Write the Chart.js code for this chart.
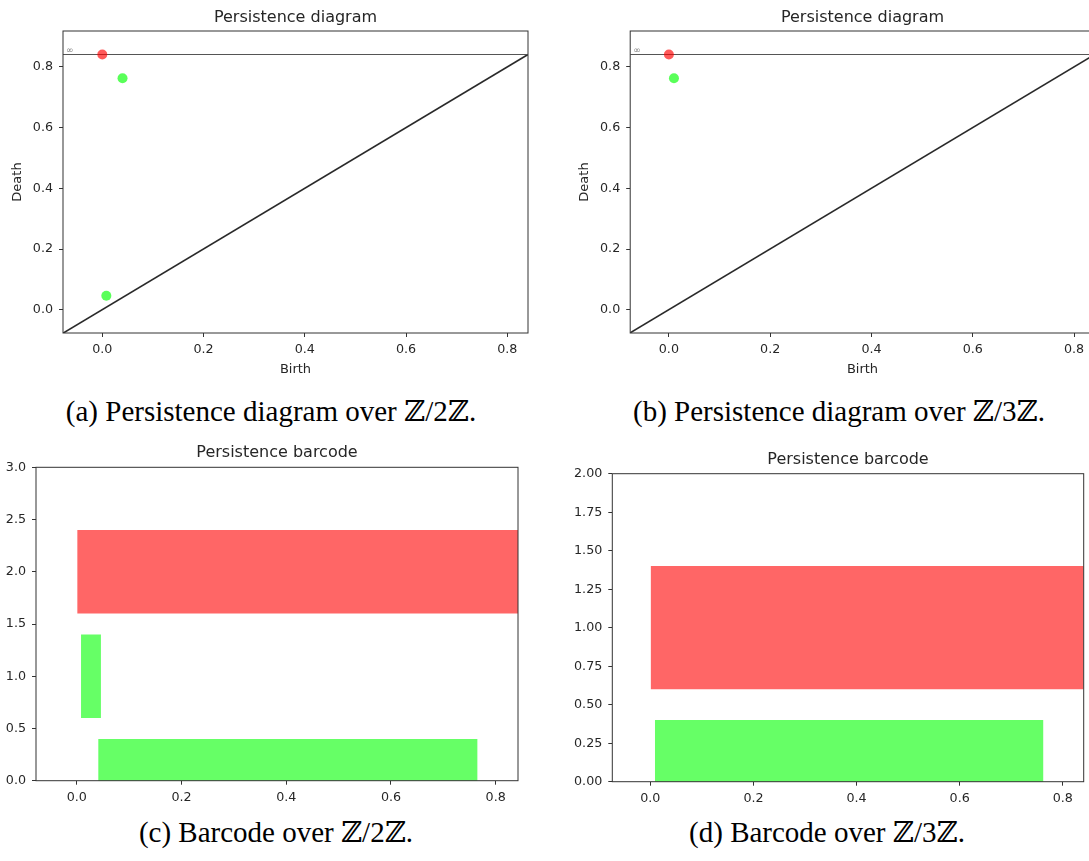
<!DOCTYPE html>
<html><head><meta charset="utf-8">
<script src="https://cdn.jsdelivr.net/npm/chart.js@4.4.1/dist/chart.umd.min.js"></script>
<style>
html,body{margin:0;padding:0;background:#fff;overflow:hidden;width:1089px;height:861px;position:relative}
canvas{position:absolute}
.cap{position:absolute;width:600px;text-align:center;font-family:'Liberation Serif','DejaVu Serif',serif;font-size:29px;line-height:32px;color:#000;white-space:nowrap}
</style></head><body>
<canvas id="ca"></canvas>
<canvas id="cb"></canvas>
<canvas id="cc"></canvas>
<canvas id="cd"></canvas>
<div class="cap" id="capA">(a) Persistence diagram over ℤ/2ℤ.</div>
<div class="cap" id="capB">(b) Persistence diagram over ℤ/3ℤ.</div>
<div class="cap" id="capC">(c) Barcode over ℤ/2ℤ.</div>
<div class="cap" id="capD">(d) Barcode over ℤ/3ℤ.</div>
<script>
// ---------- DATA ----------
// (a) persistence diagram over Z/2Z  (dim 0 = red, dim 1 = green)
const diagA_birth = [0.000, 0.040, 0.008];
const diagA_death = [0.841, 0.763, 0.046];   // first point is the essential class, on the infinity line
const diagA_dim   = [0, 1, 1];
const diagA_inf   = 0.841;
const diagA_xRange = [-0.0776, 0.841];
const diagA_yRange = [-0.0768, 0.9185];

// (b) persistence diagram over Z/3Z
const diagB_birth = [0.000, 0.010];
const diagB_death = [0.841, 0.763];
const diagB_dim   = [0, 1];
const diagB_inf   = 0.841;
const diagB_xRange = [-0.0764, 0.841];
const diagB_yRange = [-0.0768, 0.9185];

const diagTickVals   = [0.0, 0.2, 0.4, 0.6, 0.8];
const diagTickLabels = ['0.0', '0.2', '0.4', '0.6', '0.8'];

// (c) barcode over Z/2Z
const barC_row   = [2, 1, 0];
const barC_start = [0.000, 0.008, 0.041];
const barC_end   = [0.8426, 0.046, 0.765];
const barC_dim   = [0, 1, 1];
const barC_xRange = [-0.078, 0.8426];
const barC_yRange = [0, 3];
const barC_yTickVals   = [0, 0.5, 1.0, 1.5, 2.0, 2.5, 3.0];
const barC_yTickLabels = ['0.0', '0.5', '1.0', '1.5', '2.0', '2.5', '3.0'];

// (d) barcode over Z/3Z
const barD_row   = [1, 0];
const barD_start = [0.000, 0.009];
const barD_end   = [0.8405, 0.762];
const barD_dim   = [0, 1];
const barD_xRange = [-0.0738, 0.8405];
const barD_yRange = [0, 2];
const barD_yTickVals   = [0, 0.25, 0.5, 0.75, 1.0, 1.25, 1.5, 1.75, 2.0];
const barD_yTickLabels = ['0.00', '0.25', '0.50', '0.75', '1.00', '1.25', '1.50', '1.75', '2.00'];

const barXTickVals   = [0.0, 0.2, 0.4, 0.6, 0.8];
const barXTickLabels = ['0.0', '0.2', '0.4', '0.6', '0.8'];
const barHeight = 0.8;   // bar thickness in row units

// ---------- STYLE ----------
const dimColors = ['rgba(255,0,0,0.6)', 'rgba(0,255,0,0.6)'];
const pointColors = ['rgba(255,0,0,0.65)', 'rgba(0,255,0,0.65)'];
const INK = '#262626';
Chart.defaults.font.family = "'DejaVu Sans', sans-serif";
Chart.defaults.color = INK;

const geoms = {
  a: {left: 0,   top: 0,   yw: 63,   areaW: 465,   areaTop: 31,    areaBottom: 333,   H: 385, titleY: 17.5, yTitleX: 17.2, xTitleY: 369.3},
  b: {left: 560, top: 0,   yw: 70.2, areaW: 465,   areaTop: 31,    areaBottom: 333,   H: 385, titleY: 17.5, yTitleX: 584.3, xTitleY: 369.3},
  c: {left: 0,   top: 428, yw: 36,   areaW: 482.2, areaTop: 467.3, areaBottom: 780.7, H: 384, titleY: 453.3},
  d: {left: 565, top: 428, yw: 47.3, areaW: 471.7, areaTop: 473.7, areaBottom: 781.7, H: 384, titleY: 460}
};
const captions = {
  capA: {cx: 271, cy: 411}, capB: {cx: 839, cy: 411},
  capC: {cx: 276, cy: 832}, capD: {cx: 827, cy: 832}
};
for (const id in captions) {
  const el = document.getElementById(id), c = captions[id];
  el.style.left = (c.cx - 300) + 'px';
  el.style.top = (c.cy - 16) + 'px';
}

const TITLE_SIZE = 16, TITLE_LH = 1.2;
const TICK_SIZE = 12.7;

function place(canvas, g) {
  g.W = g.yw * 2 + g.areaW;
  canvas.width = g.W; canvas.height = g.H;
  canvas.style.left = g.left + 'px'; canvas.style.top = g.top + 'px';
  canvas.style.width = g.W + 'px'; canvas.style.height = g.H + 'px';
}

const framePlugin = {
  id: 'frame',
  afterDraw(chart) {
    const {ctx, chartArea: a} = chart;
    ctx.save();
    ctx.strokeStyle = '#333';
    ctx.lineWidth = 1;
    ctx.strokeRect(a.left, a.top, a.right - a.left, a.bottom - a.top);
    ctx.restore();
  }
};

function infLabelPlugin(inf, xmin) {
  return {
    id: 'infLabel',
    afterDatasetsDraw(chart) {
      const {ctx} = chart;
      const x = chart.scales.x.getPixelForValue(xmin) + 3;
      const y = chart.scales.y.getPixelForValue(inf) + 1;
      ctx.save();
      ctx.font = "9px 'DejaVu Sans', sans-serif";
      ctx.fillStyle = 'rgba(0,0,0,0.55)';
      ctx.textAlign = 'left';
      ctx.textBaseline = 'bottom';
      ctx.fillText('∞', x, y);
      ctx.restore();
    }
  };
}

function titleOpts(text, g) {
  const lh = TITLE_SIZE * TITLE_LH;
  const pt = g.titleY - g.top - lh / 2;
  const pb = (g.areaTop - g.top) - pt - lh;
  return {display: true, text, color: INK, font: {size: TITLE_SIZE, weight: 'normal', lineHeight: TITLE_LH}, padding: {top: pt, bottom: pb}};
}

function axisX(range, vals, labels, g, titleText) {
  const xh = g.H - (g.areaBottom - g.top);
  const o = {
    type: 'linear', position: 'bottom', min: range[0], max: range[1],
    afterBuildTicks: s => { s.ticks = vals.map(v => ({value: v})); },
    afterFit: s => { s.height = xh; },
    ticks: {font: {size: TICK_SIZE}, color: INK, padding: 5, maxRotation: 0, autoSkip: false,
            callback: (v, i) => labels[i]},
    grid: {display: true, drawOnChartArea: false, drawTicks: true, tickLength: 4, color: '#333', offset: false},
    border: {display: false}
  };
  if (titleText) {
    const lh = 13 * 1.2;
    o.title = {display: true, text: titleText, color: INK, font: {size: 13, lineHeight: 1.2},
               padding: {top: 0, bottom: (g.top + g.H) - g.xTitleY - lh / 2}};
  }
  return o;
}

function axisY(range, vals, labels, g, titleText) {
  const o = {
    type: 'linear', position: 'left', min: range[0], max: range[1], offset: false,
    afterBuildTicks: s => { s.ticks = vals.map(v => ({value: v})); },
    afterFit: s => { s.width = g.yw; },
    ticks: {font: {size: TICK_SIZE}, color: INK, padding: 6, autoSkip: false,
            callback: (v, i) => labels[i]},
    grid: {display: true, drawOnChartArea: false, drawTicks: true, tickLength: 4, color: '#333', offset: false},
    border: {display: false}
  };
  if (titleText) {
    const lh = 13 * 1.2;
    o.title = {display: true, text: titleText, color: INK, font: {size: 13, lineHeight: 1.2},
               padding: {top: (g.yTitleX - g.left) - lh / 2, bottom: 0}};
  }
  return o;
}

function axisY2(range, g) {
  return {
    type: 'linear', position: 'right', min: range[0], max: range[1],
    afterFit: s => { s.width = g.yw; },
    ticks: {display: false}, grid: {display: false}, border: {display: false}
  };
}

function diagram(canvasId, g, birth, death, dim, inf, xRange, yRange) {
  const cv = document.getElementById(canvasId);
  place(cv, g);
  const pts = [[], []];
  birth.forEach((b, i) => pts[dim[i]].push({x: b, y: death[i]}));
  return new Chart(cv, {
    type: 'scatter',
    data: {datasets: [
      {data: pts[0], backgroundColor: pointColors[0], borderWidth: 0, pointRadius: 5, pointHoverRadius: 5},
      {data: pts[1], backgroundColor: pointColors[1], borderWidth: 0, pointRadius: 5, pointHoverRadius: 5},
      {data: [{x: xRange[0], y: inf}, {x: xRange[1], y: inf}], showLine: true, borderColor: '#555', borderWidth: 1, pointRadius: 0},
      {data: [{x: xRange[0], y: xRange[0]}, {x: xRange[1], y: xRange[1]}], showLine: true, borderColor: '#2a2a2a', borderWidth: 1.5, pointRadius: 0}
    ]},
    options: {
      responsive: false, animation: false, devicePixelRatio: 1, events: [],
      layout: {padding: 0},
      plugins: {legend: {display: false}, tooltip: {enabled: false}, title: titleOpts('Persistence diagram', g)},
      scales: {
        x: axisX(xRange, diagTickVals, diagTickLabels, g, 'Birth'),
        y: axisY(yRange, diagTickVals, diagTickLabels, g, 'Death'),
        y2: axisY2(yRange, g)
      }
    },
    plugins: [framePlugin, infLabelPlugin(inf, xRange[0])]
  });
}

function barcode(canvasId, g, row, start, end, dim, xRange, yRange, yVals, yLabels) {
  const cv = document.getElementById(canvasId);
  place(cv, g);
  // Chart.js sizes bars from the smallest gap among rows and ticks (= tick step here)
  const tickStep = yVals[1] - yVals[0];
  return new Chart(cv, {
    type: 'bar',
    data: {datasets: [{
      data: row.map((r, i) => ({y: r, x: [start[i], end[i]]})),
      backgroundColor: dim.map(d => dimColors[d]),
      borderWidth: 0, borderSkipped: false,
      barPercentage: 1.0, categoryPercentage: barHeight / tickStep, grouped: false
    }]},
    options: {
      indexAxis: 'y',
      responsive: false, animation: false, devicePixelRatio: 1, events: [],
      layout: {padding: 0},
      plugins: {legend: {display: false}, tooltip: {enabled: false}, title: titleOpts('Persistence barcode', g)},
      scales: {
        x: axisX(xRange, barXTickVals, barXTickLabels, g, null),
        y: axisY(yRange, yVals, yLabels, g, null),
        y2: axisY2(yRange, g)
      }
    },
    plugins: [framePlugin]
  });
}

diagram('ca', geoms.a, diagA_birth, diagA_death, diagA_dim, diagA_inf, diagA_xRange, diagA_yRange);
diagram('cb', geoms.b, diagB_birth, diagB_death, diagB_dim, diagB_inf, diagB_xRange, diagB_yRange);
barcode('cc', geoms.c, barC_row, barC_start, barC_end, barC_dim, barC_xRange, barC_yRange, barC_yTickVals, barC_yTickLabels);
barcode('cd', geoms.d, barD_row, barD_start, barD_end, barD_dim, barD_xRange, barD_yRange, barD_yTickVals, barD_yTickLabels);
</script>
</body></html>
